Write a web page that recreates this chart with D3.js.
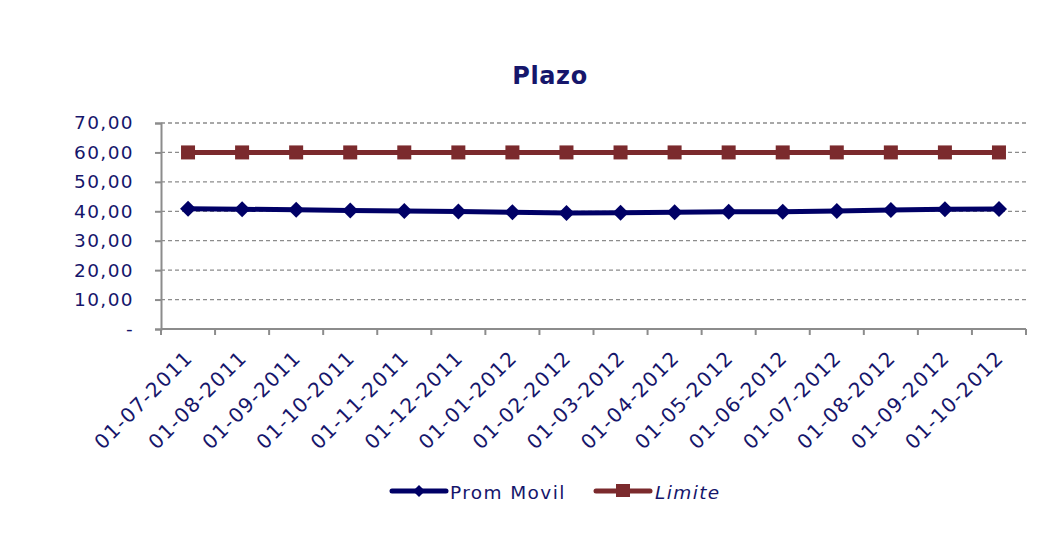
<!DOCTYPE html>
<html>
<head>
<meta charset="utf-8">
<script src="https://cdn.jsdelivr.net/npm/d3@7/dist/d3.min.js"></script>
<style>
body{margin:0;background:#fff;}
svg text{font-family:"DejaVu Sans",Verdana,sans-serif;fill:#16166b;}
</style>
</head>
<body>
<svg id="c" width="1050" height="554"></svg>
<script>
const categories = ["01-07-2011","01-08-2011","01-09-2011","01-10-2011","01-11-2011","01-12-2011","01-01-2012","01-02-2012","01-03-2012","01-04-2012","01-05-2012","01-06-2012","01-07-2012","01-08-2012","01-09-2012","01-10-2012"];
const promMovil = [40.9,40.7,40.5,40.3,40.1,39.9,39.7,39.4,39.5,39.7,39.8,39.8,40.1,40.4,40.7,40.8];
const limite = [60,60,60,60,60,60,60,60,60,60,60,60,60,60,60,60];
const yTicks = [0,10,20,30,40,50,60,70];
const yTickLabels = ["-","10,00","20,00","30,00","40,00","50,00","60,00","70,00"];

const svg = d3.select("#c");
const L = 161, R = 1026, T = 123, B = 329;
const x = d3.scaleBand().domain(categories).range([L, R]);
const y = d3.scaleLinear().domain([0, 70]).range([B, T]);
const gray = "#8c8c8c";
const blue = "#000066";
const red = "#7b2a2d";

// gridlines
svg.append("g").selectAll("line").data(yTicks.filter(d => d > 0)).join("line")
  .attr("x1", L).attr("x2", R).attr("y1", d => y(d)).attr("y2", d => y(d))
  .attr("stroke", gray).attr("stroke-width", 1.3).attr("stroke-dasharray", "4,3");

// y axis
const yAxis = d3.axisLeft(y).tickValues(yTicks).tickSize(6).tickPadding(21)
  .tickFormat((d, i) => yTickLabels[i]);
const gy = svg.append("g").attr("transform", `translate(${L},0)`).call(yAxis);
gy.select(".domain").attr("stroke", gray).attr("stroke-width", 2);
gy.selectAll(".tick line").attr("stroke", gray).attr("stroke-width", 2);
gy.selectAll(".tick text").attr("font-size", 18.5).attr("letter-spacing", 1.4)
  .attr("fill", "#16166b").attr("font-family", "DejaVu Sans, Verdana, sans-serif");

// x axis
svg.append("line").attr("x1", L).attr("x2", R).attr("y1", B).attr("y2", B)
  .attr("stroke", gray).attr("stroke-width", 2);
const bounds = categories.map(c => x(c)).concat([R]);
svg.append("g").selectAll("line").data(bounds).join("line")
  .attr("x1", d => d).attr("x2", d => d).attr("y1", B).attr("y2", B + 6)
  .attr("stroke", gray).attr("stroke-width", 2);

svg.append("g").selectAll("text").data(categories).join("text")
  .attr("transform", d => `translate(${x(d) + x.bandwidth()/2 + 6},${B + 30}) rotate(-45)`)
  .attr("text-anchor", "end").attr("font-size", 20).attr("letter-spacing", 1.3).text(d => d);

// lines
const cx = d => x(d) + x.bandwidth()/2;
const line = d3.line().x((d, i) => cx(categories[i])).y(d => y(d));
svg.append("path").datum(limite).attr("d", line).attr("fill", "none")
  .attr("stroke", red).attr("stroke-width", 5);
svg.append("g").selectAll("rect").data(limite).join("rect")
  .attr("x", (d, i) => cx(categories[i]) - 7).attr("y", d => y(d) - 7)
  .attr("width", 14).attr("height", 14).attr("fill", red);

svg.append("path").datum(promMovil).attr("d", line).attr("fill", "none")
  .attr("stroke", blue).attr("stroke-width", 5);
const diamond = "M0,-8L8,0L0,8L-8,0Z";
svg.append("g").selectAll("path").data(promMovil).join("path")
  .attr("transform", (d, i) => `translate(${cx(categories[i])},${y(d)})`)
  .attr("d", diamond).attr("fill", blue);

// title
svg.append("text").attr("x", 550).attr("y", 84).attr("text-anchor", "middle")
  .attr("font-size", 24).attr("font-weight", "bold").attr("letter-spacing", 0.6).text("Plazo");

// legend
const ly = 491;
svg.append("line").attr("x1", 392).attr("x2", 446).attr("y1", ly).attr("y2", ly)
  .attr("stroke", blue).attr("stroke-width", 5).attr("stroke-linecap", "round");
svg.append("path").attr("transform", `translate(419,${ly})`).attr("d", "M0,-6L6,0L0,6L-6,0Z").attr("fill", blue);
svg.append("text").attr("x", 450).attr("y", ly + 8).attr("font-size", 18.5).attr("letter-spacing", 1.4).text("Prom Movil");

svg.append("line").attr("x1", 596).attr("x2", 650).attr("y1", ly).attr("y2", ly)
  .attr("stroke", red).attr("stroke-width", 5).attr("stroke-linecap", "round");
svg.append("rect").attr("x", 616).attr("y", ly - 7).attr("width", 14).attr("height", 13).attr("fill", red);
svg.append("text").attr("x", 655).attr("y", ly + 8).attr("font-size", 18.5).attr("letter-spacing", 1.4).attr("font-style", "italic").text("Limite");
</script>
</body>
</html>
